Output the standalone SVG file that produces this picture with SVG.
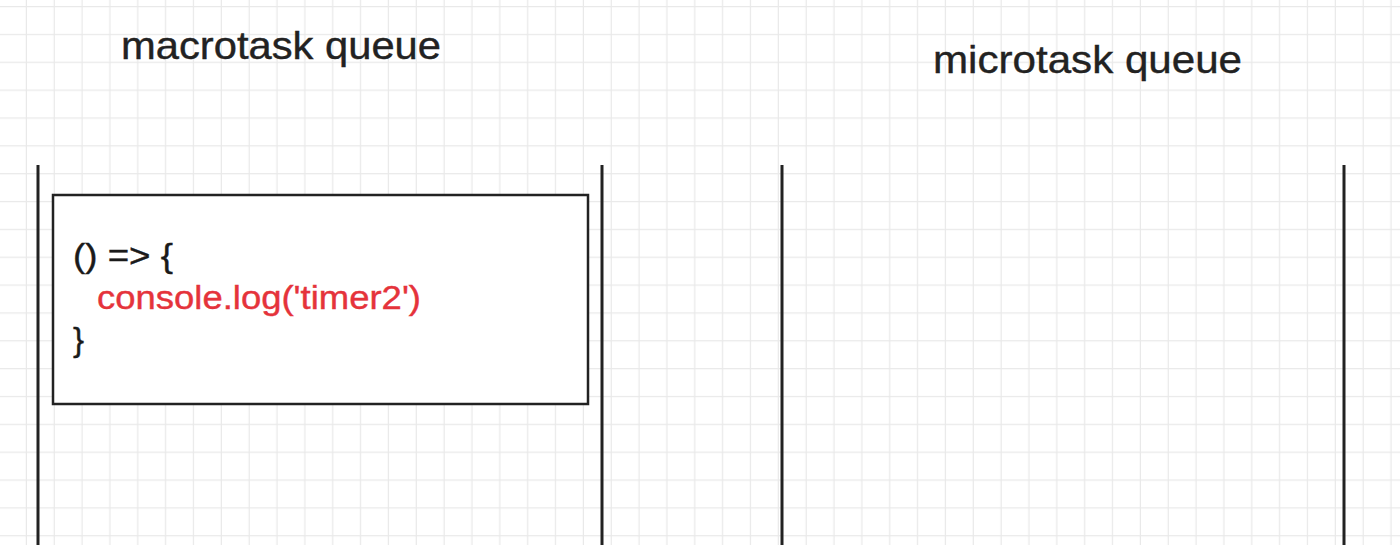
<svg xmlns="http://www.w3.org/2000/svg" width="1400" height="545" viewBox="0 0 1400 545">
<defs>
<pattern id="grid" x="-0.85" y="6" width="27.85" height="27.85" patternUnits="userSpaceOnUse">
<path d="M27.85 0V27.85M0 0H27.85" fill="none" stroke="#e9e9e9" stroke-width="2.5"/>
</pattern>
<style>
.title{font-family:"Liberation Sans",Arial,sans-serif;font-size:39px;fill:#222;stroke:#222;stroke-width:0.4}
.code{font-family:"Liberation Sans",Arial,sans-serif;font-size:33px;fill:#1a1a1a;stroke:#1a1a1a;stroke-width:0.4}
.red{fill:#e5333b;stroke:#e5333b}
.wall{stroke:#222;stroke-width:3;fill:none}
.box{stroke:#222;stroke-width:2.5;fill:#fff}
</style>
</defs>
<rect width="1400" height="545" fill="#fff"/>
<rect width="1400" height="545" fill="url(#grid)"/>
<g id="macro-queue">
<text class="title" x="121" y="59" textLength="320" lengthAdjust="spacingAndGlyphs">macrotask queue</text>
<line class="wall" x1="38" y1="165" x2="38" y2="545"/>
<line class="wall" x1="602" y1="165" x2="602" y2="545"/>
</g>
<g id="micro-queue">
<text class="title" x="933" y="73" textLength="309" lengthAdjust="spacingAndGlyphs">microtask queue</text>
<line class="wall" x1="782" y1="165" x2="782" y2="545"/>
<line class="wall" x1="1344" y1="165" x2="1344" y2="545"/>
</g>
<g id="timer2-task">
<rect class="box" x="53" y="195" width="535" height="209"/>
<text class="code" x="73" y="267" textLength="100" lengthAdjust="spacingAndGlyphs">() =&gt; {</text>
<text class="code red" x="97" y="309" textLength="324" lengthAdjust="spacingAndGlyphs">console.log('timer2')</text>
<text class="code" x="73" y="351">}</text>
</g>
<g id="connectors"/>
</svg>
